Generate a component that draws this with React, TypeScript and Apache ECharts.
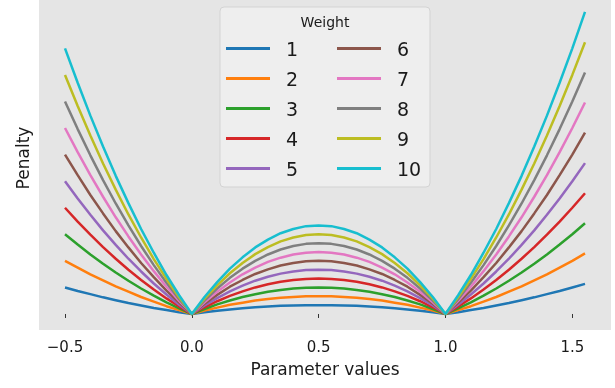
import React, { useEffect, useRef } from "react";
import * as echarts from "echarts";

const xValues = [
  -0.5, -0.45, -0.4, -0.35, -0.3, -0.25, -0.2, -0.15, -0.1, -0.05, 0,
  0.05, 0.1, 0.15, 0.2, 0.25, 0.3, 0.35, 0.4, 0.45, 0.5, 0.55, 0.6, 0.65, 0.7, 0.75, 0.8, 0.85, 0.9, 0.95,
  1.0, 1.05, 1.1, 1.15, 1.2, 1.25, 1.3, 1.35, 1.4, 1.45, 1.5, 1.55,
];

const weights = ["1", "2", "3", "4", "5", "6", "7", "8", "9", "10"];

const w1 = [0.75,0.65,0.56,0.47,0.39,0.31,0.24,0.17,0.11,0.05,0,0.05,0.09,0.13,0.16,0.19,0.21,0.23,0.24,0.25,0.25,0.25,0.24,0.23,0.21,0.19,0.16,0.13,0.09,0.05,0,0.05,0.11,0.17,0.24,0.31,0.39,0.47,0.56,0.65,0.75,0.85];
const w2 = [1.5,1.31,1.12,0.95,0.78,0.63,0.48,0.35,0.22,0.11,0,0.1,0.18,0.26,0.32,0.38,0.42,0.46,0.48,0.5,0.5,0.5,0.48,0.46,0.42,0.38,0.32,0.26,0.18,0.1,0,0.11,0.22,0.35,0.48,0.63,0.78,0.95,1.12,1.31,1.5,1.71];
const w3 = [2.25,1.96,1.68,1.42,1.17,0.94,0.72,0.52,0.33,0.16,0,0.14,0.27,0.38,0.48,0.56,0.63,0.68,0.72,0.74,0.75,0.74,0.72,0.68,0.63,0.56,0.48,0.38,0.27,0.14,0,0.16,0.33,0.52,0.72,0.94,1.17,1.42,1.68,1.96,2.25,2.56];
const w4 = [3,2.61,2.24,1.89,1.56,1.25,0.96,0.69,0.44,0.21,0,0.19,0.36,0.51,0.64,0.75,0.84,0.91,0.96,0.99,1,0.99,0.96,0.91,0.84,0.75,0.64,0.51,0.36,0.19,0,0.21,0.44,0.69,0.96,1.25,1.56,1.89,2.24,2.61,3,3.41];
const w5 = [3.75,3.26,2.8,2.36,1.95,1.56,1.2,0.86,0.55,0.26,0,0.24,0.45,0.64,0.8,0.94,1.05,1.14,1.2,1.24,1.25,1.24,1.2,1.14,1.05,0.94,0.8,0.64,0.45,0.24,0,0.26,0.55,0.86,1.2,1.56,1.95,2.36,2.8,3.26,3.75,4.26];
const w6 = [4.5,3.92,3.36,2.84,2.34,1.88,1.44,1.04,0.66,0.32,0,0.29,0.54,0.77,0.96,1.13,1.26,1.37,1.44,1.49,1.5,1.49,1.44,1.37,1.26,1.13,0.96,0.77,0.54,0.29,0,0.32,0.66,1.04,1.44,1.88,2.34,2.84,3.36,3.92,4.5,5.12];
const w7 = [5.25,4.57,3.92,3.31,2.73,2.19,1.68,1.21,0.77,0.37,0,0.33,0.63,0.89,1.12,1.31,1.47,1.59,1.68,1.73,1.75,1.73,1.68,1.59,1.47,1.31,1.12,0.89,0.63,0.33,0,0.37,0.77,1.21,1.68,2.19,2.73,3.31,3.92,4.57,5.25,5.97];
const w8 = [6,5.22,4.48,3.78,3.12,2.5,1.92,1.38,0.88,0.42,0,0.38,0.72,1.02,1.28,1.5,1.68,1.82,1.92,1.98,2,1.98,1.92,1.82,1.68,1.5,1.28,1.02,0.72,0.38,0,0.42,0.88,1.38,1.92,2.5,3.12,3.78,4.48,5.22,6,6.82];
const w9 = [6.75,5.87,5.04,4.25,3.51,2.81,2.16,1.55,0.99,0.47,0,0.43,0.81,1.15,1.44,1.69,1.89,2.05,2.16,2.23,2.25,2.23,2.16,2.05,1.89,1.69,1.44,1.15,0.81,0.43,0,0.47,0.99,1.55,2.16,2.81,3.51,4.25,5.04,5.87,6.75,7.67];
const w10 = [7.5,6.53,5.6,4.73,3.9,3.13,2.4,1.73,1.1,0.53,0,0.48,0.9,1.28,1.6,1.88,2.1,2.28,2.4,2.48,2.5,2.48,2.4,2.28,2.1,1.88,1.6,1.28,0.9,0.48,0,0.53,1.1,1.73,2.4,3.13,3.9,4.73,5.6,6.53,7.5,8.53];

const seriesValues = [w1, w2, w3, w4, w5, w6, w7, w8, w9, w10];
const xTicks = [-0.5, 0, 0.5, 1.0, 1.5];

const colors = [
  "#1f77b4", "#ff7f0e", "#2ca02c", "#d62728", "#9467bd",
  "#8c564b", "#e377c2", "#7f7f7f", "#bcbd22", "#17becf",
];

const FONT = "DejaVu Sans";

export default function App() {
  const ref = useRef<HTMLDivElement>(null);
  useEffect(() => {
    if (!ref.current) return;
    const chart = echarts.init(ref.current, null, { renderer: "svg" });
    const legendCommon = {
      orient: "vertical",
      top: 39,
      padding: 0,
      itemWidth: 44,
      itemHeight: 3,
      itemGap: 11,
      icon: "rect",
      z: 10,
      textStyle: {
        fontFamily: FONT,
        fontSize: 19,
        lineHeight: 19,
        color: "#1a1a1a",
        padding: [0, 0, 0, 11],
      },
    };
    chart.setOption({
      animation: false,
      color: colors,
      grid: {
        left: 39,
        right: 4,
        top: 0,
        bottom: 58,
        show: true,
        backgroundColor: "#e5e5e5",
        borderWidth: 0,
      },
      xAxis: {
        type: "value",
        min: -0.6025,
        max: 1.6525,
        name: "Parameter values",
        nameLocation: "middle",
        nameGap: 30,
        nameTextStyle: { fontFamily: FONT, fontSize: 17, color: "#1a1a1a" },
        axisLine: { show: false },
        splitLine: { show: false },
        axisTick: {
          show: true,
          length: 4,
          customValues: xTicks,
          lineStyle: { color: "#333333", width: 1 },
        },
        axisLabel: {
          customValues: xTicks,
          margin: 9,
          fontFamily: FONT,
          fontSize: 15,
          color: "#1a1a1a",
          formatter: (v: number) => v.toFixed(1).replace("-", "\u2212"),
        },
      },
      yAxis: {
        type: "value",
        min: -0.452,
        max: 8.865,
        axisLine: { show: false },
        axisTick: { show: false },
        axisLabel: { show: false },
        splitLine: { show: false },
      },
      legend: [
        { ...legendCommon, left: 226, data: weights.slice(0, 5) },
        { ...legendCommon, left: 337, data: weights.slice(5, 10) },
      ],
      graphic: [
        {
          type: "rect",
          z: 5,
          shape: { x: 220, y: 7, width: 210, height: 180, r: 4 },
          style: { fill: "#eeeeee", stroke: "#d3d3d3", lineWidth: 1 },
        },
        {
          type: "text",
          z: 6,
          x: 325,
          y: 22,
          style: {
            text: "Weight",
            fontFamily: FONT,
            fontSize: 14,
            fill: "#1a1a1a",
            align: "center",
            verticalAlign: "middle",
          },
        },
        {
          type: "text",
          z: 6,
          x: 23,
          y: 158,
          rotation: Math.PI / 2,
          style: {
            text: "Penalty",
            fontFamily: FONT,
            fontSize: 17,
            fill: "#1a1a1a",
            align: "center",
            verticalAlign: "middle",
          },
        },
      ],
      series: seriesValues.map((vals, i) => ({
        name: weights[i],
        type: "line",
        showSymbol: false,
        symbol: "none",
        data: xValues.map((x, j) => [x, vals[j]]),
        lineStyle: { width: 2.5, color: colors[i] },
        itemStyle: { color: colors[i] },
      })),
    });
    return () => chart.dispose();
  }, []);
  return (
    <div
      ref={ref}
      style={{ position: "fixed", left: 0, top: 0, width: 615, height: 388 }}
    />
  );
}
